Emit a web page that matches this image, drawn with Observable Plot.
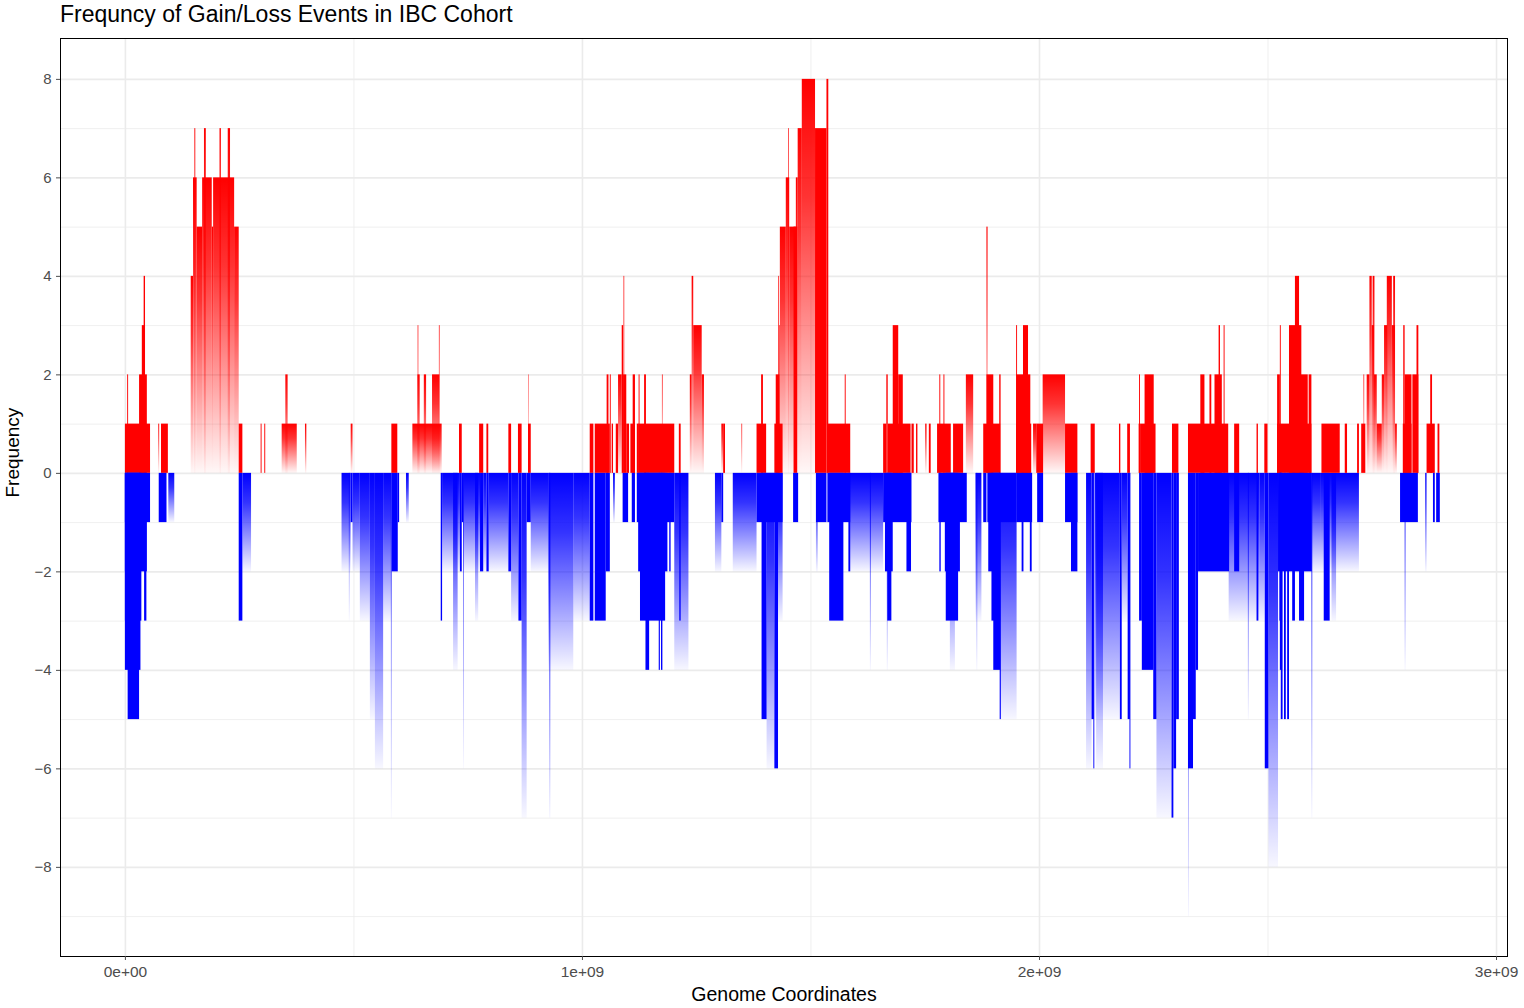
<!DOCTYPE html>
<html>
<head>
<meta charset="utf-8">
<script src="https://cdn.jsdelivr.net/npm/d3@7"></script>
<script src="https://cdn.jsdelivr.net/npm/@observablehq/plot@0.6"></script>
<style>
  body { margin: 0; background: #fff; font-family: "Liberation Sans", Arial, sans-serif; }
  #title { height: 30px; line-height: 28px; padding-left: 60px; font-size: 23px; color: #000; white-space: nowrap; }
</style>
</head>
<body>
<div id="title">Frequncy of Gain/Loss Events in IBC Cohort</div>
<div id="chart"></div>
<script>
// Segments are [start Mb, end Mb, frequency].
// "Faded" segments are regions dense with tiny events; they are drawn with a vertical fade.
const gains = [
  [0, 55, 1], [5, 7, 2], [31, 48, 2], [37, 44, 3], [41, 44, 4], [79, 94, 1],
  [249, 257, 1], [297, 299, 1], [305, 307, 1], [583, 596, 1], [731, 737, 1],
  [775, 784, 1], [791, 795, 1], [839, 845, 1], [860, 868, 1], [882, 888, 1],
  [1017, 1025, 1], [1028, 1061, 1], [1054, 1058, 2], [1061, 1063, 2], [1065, 1068, 1],
  [1074, 1079, 1], [1087, 1090, 3], [1091, 1092.5, 4], [1090, 1097, 2], [1097, 1103, 1],
  [1106, 1116, 1], [1111, 1116, 2], [1120, 1124, 1], [1124, 1126, 2], [1123, 1202, 1],
  [1136, 1140, 2], [1212, 1216, 1], [1309, 1313, 1], [1382, 1403, 1], [1392, 1396, 2],
  [1421, 1439, 1], [1424, 1432, 2], [1429, 1430.5, 4], [1431, 1432.5, 3], [1463, 1471, 5],
  [1510, 1535, 7], [1535, 1539, 8], [1537, 1587, 1], [1575, 1577, 2],
  [1659, 1666, 1], [1666, 1669, 2], [1669, 1719, 1], [1680, 1692, 3], [1692, 1702, 2],
  [1721, 1726, 1], [1731, 1734, 1], [1759, 1763, 1], [1777, 1807, 1], [1782, 1784, 2],
  [1791, 1793, 2], [1812, 1834, 1], [1878, 1915, 1], [1885, 1900, 2], [1913, 1916, 2],
  [1950, 1983, 1], [1950, 1952, 3], [1950, 1981, 2], [1965, 1976, 3], [1994, 2009, 1],
  [2057, 2084, 1], [2113, 2122, 1], [2175, 2178, 1], [2193, 2199, 1], [2218, 2223, 1],
  [2219, 2221, 2], [2223, 2255, 1], [2231, 2251, 2], [2291, 2305, 1], [2326, 2414, 1],
  [2353, 2362, 2], [2373, 2377, 2], [2384, 2400, 2], [2393, 2396, 3], [2404, 2406, 3],
  [2427, 2438, 1], [2476, 2479, 1], [2493, 2500, 1], [2521, 2596, 1], [2521, 2527, 2],
  [2527, 2529, 3], [2547, 2574, 3], [2560, 2569, 4], [2572, 2588, 2], [2590, 2596, 2],
  [2618, 2658, 1], [2669, 2674, 1], [2696, 2700, 1], [2705, 2714, 1],
  [2796, 2815, 1], [2797, 2800, 3], [2800, 2815, 2], [2817, 2830, 2], [2826, 2830, 3],
  [2848, 2866, 1], [2856, 2860, 2], [2872, 2876, 1]
];

const gainsFaded = [
  [73, 75, 1],
  [144, 149, 4], [149, 157, 6], [152, 154, 7], [157, 169, 5], [169, 190, 6], [173, 177, 7],
  [190, 193, 5], [193, 239, 6], [207, 210, 7], [225, 230, 7], [239, 249, 5],
  [343, 376, 1], [351, 356, 2], [394, 397, 1], [494, 498, 1],
  [629, 693, 1], [640, 645, 2], [654, 659, 2], [672, 688, 2], [640.5, 642, 3], [687, 688.5, 3],
  [883, 884, 2], [1079, 1087, 2], [1175, 1176.5, 2],
  [1236, 1240, 2], [1240, 1243.5, 4], [1243.5, 1262, 3], [1262, 1267, 2],
  [1305, 1309, 1], [1349, 1350.5, 1],
  [1433, 1446, 5], [1446, 1453.5, 6], [1451, 1452.5, 7], [1453.5, 1468, 5], [1468, 1472, 6],
  [1472, 1481, 7], [1481, 1510, 8],
  [1751, 1754, 1], [1840, 1856, 2], [1885, 1887.5, 5], [1987, 1994, 1], [2008, 2057, 2],
  [2710, 2711.5, 2],
  [2717, 2723, 2], [2723, 2728, 4], [2728, 2733, 3], [2730, 2734, 4], [2733, 2739, 2],
  [2739, 2750, 1], [2750, 2755, 2], [2755, 2762, 3], [2761, 2772, 4], [2772, 2779, 3],
  [2775, 2779, 4], [2779, 2783, 1]
];

const losses = [
  [0, 55, -1], [0, 48, -2], [0, 36, -3], [42, 47, -3], [0, 34, -4], [6, 31, -5],
  [74, 91, -1], [249, 257, -3], [494, 498, -1], [583.5, 597, -2], [597, 600, -1],
  [691, 694, -3], [733, 737, -2], [737, 740, -1], [777, 784, -2], [791, 796, -2],
  [839, 845, -2], [861, 868, -3], [879, 888, -1], [1017, 1025, -3], [1028, 1052, -3],
  [1052, 1061, -2], [1089, 1101, -1], [1109, 1116, -1], [1120, 1202, -1], [1123, 1187, -2],
  [1127, 1182, -3], [1139, 1147, -4], [1168, 1170.5, -4], [1173, 1176, -4], [1191, 1194, -2],
  [1213, 1216, -3], [1305, 1309, -1], [1382, 1439, -1], [1393, 1404, -5], [1421, 1429, -6],
  [1462, 1473, -1], [1512, 1535, -1], [1537, 1587, -1], [1541, 1572, -3], [1583, 1587, -2],
  [1659, 1721, -1], [1663, 1680, -2], [1668, 1677, -3], [1710, 1720, -2],
  [1780, 1842, -1], [1782, 1785, -2], [1794, 1827, -2], [1796, 1823, -3],
  [1878, 1885, -1], [1887, 1951, -1], [1889, 1915, -2], [1896, 1915, -3], [1900, 1915, -4],
  [1914, 1916.5, -5], [1951, 1985, -1], [1962, 1966, -2], [1980, 1984, -2], [1996, 2009, -1],
  [2057, 2084, -1], [2070, 2084, -2], [2115, 2120, -5], [2119, 2121, -6], [2177, 2181, -5],
  [2194, 2199, -5], [2198, 2200, -6], [2219, 2225, -3], [2225, 2250, -4], [2250, 2257, -5],
  [2290, 2294, -7], [2294, 2300, -6], [2300, 2306, -5], [2326, 2337, -6], [2337, 2343, -5],
  [2343, 2348, -4], [2348, 2416, -2], [2427, 2438, -2], [2476, 2480, -3], [2494, 2502, -6],
  [2523, 2597, -2], [2526, 2531, -3], [2527, 2531, -4], [2529, 2533, -5], [2536, 2540, -5],
  [2543, 2547, -5], [2554, 2560, -3], [2569, 2580, -3], [2623, 2636, -3],
  [2790, 2829, -1], [2862, 2866, -1], [2869, 2877, -1]
];

const lossesFaded = [
  [95, 108, -1], [257, 276, -2],
  [474, 494, -2], [490, 491.5, -3], [498, 514, -2], [514, 536, -3], [536, 547, -5],
  [547, 565, -6], [565, 583, -3], [582, 583.5, -7], [615, 621, -1],
  [694, 733, -2], [718, 728, -4], [740, 741.5, -6], [740, 777, -2], [766, 773, -3],
  [784, 791, -2], [796, 839, -2], [845, 861, -3], [868, 879, -7], [888, 926, -2],
  [926, 981, -4], [928, 931, -7], [981, 1017, -3], [1068, 1072, -1],
  [1202, 1233, -4], [1291, 1305, -2], [1330, 1382, -2], [1404, 1421, -6], [1429, 1439, -3],
  [1512, 1516, -2], [1586, 1659, -2], [1630, 1632, -4], [1667, 1669, -4],
  [1805, 1816, -4], [1861, 1874, -3], [1863, 1865, -4], [1915, 1951, -5],
  [2103, 2115, -6], [2122, 2177, -5], [2125, 2140, -6], [2181, 2194, -3], [2257, 2290, -7],
  [2326, 2328, -9], [2415, 2482, -3], [2457, 2459, -5], [2482, 2494, -3], [2502, 2523, -8],
  [2596, 2598, -7], [2597, 2615, -2], [2615, 2700, -2], [2640, 2650, -3],
  [2800, 2802, -4], [2845, 2848, -2]
];

const xTicks = [0, 1e9, 2e9, 3e9];
const xTickLabels = ["0e+00", "1e+09", "2e+09", "3e+09"];
const xMinor = [0.5e9, 1.5e9, 2.5e9];
const yTicks = [-8, -6, -4, -2, 0, 2, 4, 6, 8];
const yTickLabels = ["\u22128", "\u22126", "\u22124", "\u22122", "0", "2", "4", "6", "8"];
const yMinor = [-9, -7, -5, -3, -1, 1, 3, 5, 7];

const MB = 1e6;
const GAIN = "#ff0000";
const LOSS = "#0000ff";
const GRID = "#ebebeb";

// Vertical fades: opaque at the top of each rect, almost clear at its bottom.
function fadeDefs() {
  const defs = d3.create("svg:defs");
  for (const [id, color] of [["fadeGain", GAIN], ["fadeLoss", LOSS]]) {
    const g = defs.append("linearGradient").attr("id", id)
      .attr("x1", 0).attr("y1", 0).attr("x2", 0).attr("y2", 1);
    g.append("stop").attr("offset", 0).attr("stop-color", color).attr("stop-opacity", 1);
    g.append("stop").attr("offset", 0.3).attr("stop-color", color).attr("stop-opacity", 0.8);
    g.append("stop").attr("offset", 1).attr("stop-color", color).attr("stop-opacity", 0.03);
  }
  return defs.node();
}

const seg = {x1: d => d[0] * MB, x2: d => d[1] * MB, y1: 0, y2: d => d[2], inset: 0};

const chart = Plot.plot({
  width: 1524,
  height: 978,
  marginLeft: 60,
  marginRight: 17,
  marginTop: 8,
  marginBottom: 52,
  x: {domain: [-142e6, 3024e6]},
  y: {domain: [-9.81, 8.83]},
  style: {fontFamily: "'Liberation Sans', Arial, sans-serif", background: "#fff"},
  marks: [
    fadeDefs,
    Plot.ruleY(yMinor, {stroke: GRID, strokeWidth: 0.8}),
    Plot.ruleX(xMinor, {stroke: GRID, strokeWidth: 0.8}),
    Plot.ruleY(yTicks, {stroke: GRID, strokeWidth: 1.6}),
    Plot.ruleX(xTicks, {stroke: GRID, strokeWidth: 1.6}),
    Plot.rect(gainsFaded, {...seg, fill: "url(#fadeGain)"}),
    Plot.rect(lossesFaded, {...seg, fill: "url(#fadeLoss)"}),
    Plot.rect(gains, {...seg, fill: GAIN}),
    Plot.rect(losses, {...seg, fill: LOSS}),
    Plot.frame({stroke: "#000", strokeWidth: 1}),
    Plot.axisY({
      ticks: yTicks, tickSize: 4, tickPadding: 5, fontSize: 15, color: "#4d4d4d",
      tickFormat: d => yTickLabels[yTicks.indexOf(d)], label: null
    }),
    Plot.axisX({
      ticks: xTicks, tickSize: 4, tickPadding: 5, fontSize: 15.5, color: "#4d4d4d",
      tickFormat: d => xTickLabels[xTicks.indexOf(d)], label: null
    }),
    Plot.text(["Frequency"], {frameAnchor: "left", dx: -48, rotate: -90, fontSize: 19, fill: "#000"}),
    Plot.text(["Genome Coordinates"], {frameAnchor: "bottom", dy: 44, fontSize: 19.5, fill: "#000"})
  ]
});

document.getElementById("chart").appendChild(chart);
</script>
</body>
</html>
